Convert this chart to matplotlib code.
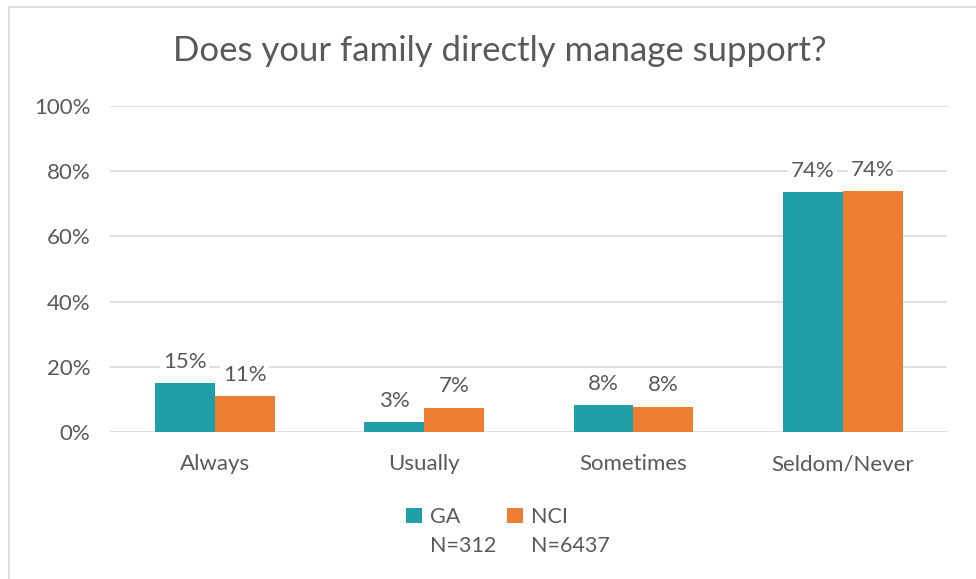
import numpy as np
import matplotlib.pyplot as plt
from matplotlib.patches import Rectangle

categories = ['Always', 'Usually', 'Sometimes', 'Seldom/Never']
ga = [15.0, 3.0, 8.3, 73.7]
nci = [10.9, 7.5, 7.8, 74.0]
ga_labels = ['15%', '3%', '8%', '74%']
nci_labels = ['11%', '7%', '8%', '74%']
series_names = ['GA', 'NCI']
series_n = ['N=312', 'N=6437']

plt.rcParams['font.family'] = ['Lato', 'DejaVu Sans']
text_col = '#595959'
teal = '#219FA8'
orange = '#ED7D31'

fig = plt.figure(figsize=(9.76, 5.79), dpi=100)
ax = fig.add_axes([0.1127, 0.2539, 0.858, 0.563])

# border around the chart
fig.patches.append(Rectangle((9 / 976, -0.05), 1.0, 1 - 7 / 579 + 0.05,
                             transform=fig.transFigure, fill=False,
                             edgecolor='#D9D9D9', linewidth=1.2))

x = np.arange(len(categories))
w = 0.286
b1 = ax.bar(x - w / 2, ga, w, color=teal, label=series_names[0], zorder=3)
b2 = ax.bar(x + w / 2, nci, w, color=orange, label=series_names[1], zorder=3)

for bars, labs in ((b1, ga_labels), (b2, nci_labels)):
    for rect, lab in zip(bars, labs):
        ax.annotate(lab, (rect.get_x() + rect.get_width() / 2, rect.get_height()),
                    xytext=(0, 8), textcoords='offset points', ha='center', va='bottom',
                    fontsize=16, color=text_col, zorder=4,
                    bbox=dict(boxstyle='square,pad=0.12', fc='white', ec='none'))

ax.set_xlim(-0.5, 3.5)
ax.set_ylim(0, 100)
ax.set_yticks(np.arange(0, 101, 20))
ax.set_yticklabels([f'{v}%' for v in range(0, 101, 20)])
ax.set_xticks(x)
ax.set_xticklabels(categories)
ax.tick_params(axis='both', length=0, labelsize=16, colors=text_col)
ax.tick_params(axis='x', pad=16)
ax.tick_params(axis='y', pad=14)
ax.grid(axis='y', color='#D9D9D9', linewidth=1.2, zorder=0)
for s in ax.spines.values():
    s.set_visible(False)

fig.text(0.512, 0.912, 'Does your family directly manage support?', ha='center', va='center',
         fontsize=25, color=text_col)

leg = fig.legend(loc='center', bbox_to_anchor=(0.499, 0.107), ncol=2, frameon=False,
                 fontsize=15.5, handlelength=0.75, handleheight=0.75, handletextpad=0.35,
                 columnspacing=2.2, labelcolor=text_col)

# second line of each legend entry (sample size) under the series name
fig.canvas.draw()
inv = fig.transFigure.inverted()
for t, n in zip(leg.get_texts(), series_n):
    bb = t.get_window_extent()
    x0, y0 = inv.transform((bb.x0, bb.y0))
    fig.text(x0, y0 - 0.016, n, ha='left', va='top', fontsize=15.5, color=text_col)

fig.savefig('out.png', dpi=100)
